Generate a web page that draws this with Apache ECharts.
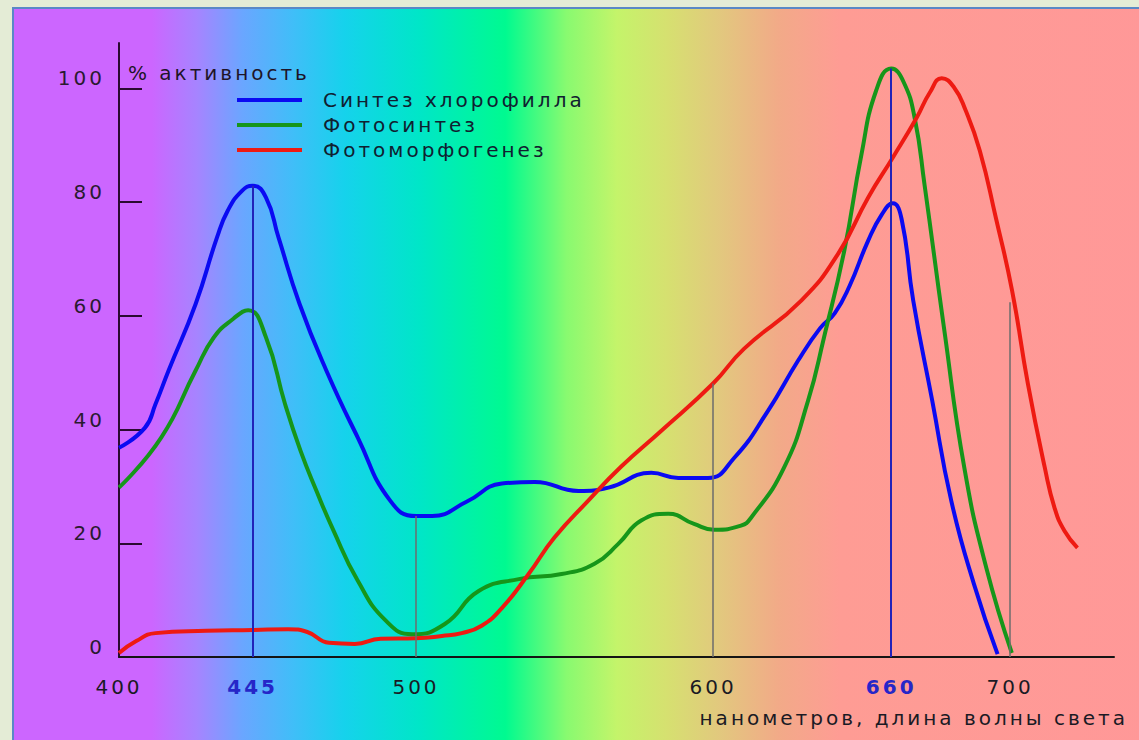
<!DOCTYPE html>
<html>
<head>
<meta charset="utf-8">
<script src="https://cdn.jsdelivr.net/npm/echarts@6/dist/echarts.min.js"></script>
<style>
  html, body { margin: 0; padding: 0; background: #e4ecd6; }
  #chart { width: 1139px; height: 740px; }
  #chart text { letter-spacing: 3px; }
</style>
</head>
<body>
<div id="chart"></div>
<script>
// ---- data (wavelength, nm / activity, %) ----
const seriesNames = ['Синтез хлорофилла', 'Фотосинтез', 'Фотоморфогенез'];

const chlorophyllNm  = [400, 408.7, 412.3, 416.7, 425.8, 433, 436.6, 441.4, 445, 449.5, 453.7, 460.8, 469.8, 480.4, 491.3, 500, 505.4, 517, 528.9, 540, 554.7, 564.8, 579.2, 588.3, 598.3, 607.1, 618.5, 628.6, 636, 641, 646, 652.2, 656.8, 660.5, 663.5, 667.4, 673.8, 680.2, 687.8, 695.8];
const chlorophyllPct = [36.8, 40.3, 44.5, 50.4, 62.1, 73.8, 78.5, 82, 82.9, 80.8, 73.8, 62.1, 50.4, 38.6, 27.5, 24.8, 24.8, 27.3, 30.5, 30.8, 29.2, 29.8, 32.4, 31.5, 31.5, 35, 43.3, 52.1, 57.8, 60.5, 65.3, 73.2, 77.8, 79.8, 77, 62.7, 45.1, 27.5, 12.9, 0.5];

const photosynthesisNm  = [400, 414.2, 425.8, 431.9, 438.5, 443.5, 449.5, 455.9, 461.1, 466.5, 472, 480.4, 490, 498.7, 509.7, 521.1, 534.6, 549, 560.1, 568.1, 575.8, 584.9, 593.6, 600.3, 609.4, 612.8, 623.9, 632, 637.4, 644.2, 649.9, 654.9, 660, 664.2, 668, 671.2, 674.4, 677.6, 684.6, 692, 700.6];
const photosynthesisPct = [29.8, 38.6, 50.4, 56.2, 59.5, 61, 56.2, 44.5, 36.3, 29.2, 22.5, 13.4, 6.3, 4.0, 5.8, 11.6, 13.7, 14.6, 16.4, 19.9, 24, 25.2, 23.4, 22.4, 23.1, 24.5, 33.3, 45.1, 56.3, 71.5, 88.2, 99.6, 103.5, 101.1, 94.5, 83.1, 70.8, 58.5, 33.3, 15.7, 0.7];

const morphogenesisNm  = [400, 405.8, 412.3, 429.4, 445, 456.9, 463.4, 470.7, 479.4, 488.1, 500, 508.7, 515.4, 522.1, 528.9, 537.9, 546.6, 558, 569.1, 582.6, 600, 610.4, 629.7, 642.2, 652.2, 660.6, 668.6, 673, 677, 681, 685, 689.8, 695.2, 700.7, 706, 711.7, 715, 718.3, 722.7];
const morphogenesisPct = [0.7, 2.8, 4.2, 4.6, 4.75, 4.9, 4.4, 2.5, 2.3, 3.2, 3.3, 3.7, 4.2, 5.5, 8.6, 14.6, 21, 27.5, 33.5, 39.8, 48.1, 54.2, 62.7, 71, 80.8, 87.9, 94.9, 99.3, 101.8, 100.3, 96.2, 89.1, 77.3, 64.4, 48.1, 33.3, 26.2, 22.2, 19.2];

// vertical guide lines: wavelength and the height they reach
const guideNm  = [445, 500, 600, 660, 700];
const guideTop = [82.9, 24.8, 48.1, 103.5, 62.4];
const guideHighlighted = [445, 660];

// axis labels
const xLabelValues = [400, 445, 500, 600, 660, 700];
const yLabelValues = [0, 20, 40, 60, 80, 100];
const yTickValues  = [20, 40, 60, 80, 100];
const yAxisTitle = '% активность';
const xAxisTitle = 'нанометров, длина волны света';

// ---- chart ----
const FONT = 'DejaVu Sans';
const FS = 20;
const colors = ['#0a0af2', '#16961a', '#ee1a12'];
const zip = (xs, ys) => xs.map((x, i) => [x, ys[i]]);

const chart = echarts.init(document.getElementById('chart'), null, { renderer: 'svg' });

const panelStops = [
  [0.0000, '#cc66ff'], [0.1216, '#cc66ff'], [0.1615, '#a684ff'], [0.2014, '#6aa6ff'],
  [0.2458, '#40bef8'], [0.2902, '#16d2ec'], [0.3558, '#00e6c8'], [0.4321, '#00fa90'],
  [0.4854, '#88fa70'], [0.5297, '#c4f46a'], [0.5741, '#d6e070'], [0.6202, '#e2c87e'],
  [0.6717, '#f2aa88'], [0.7250, '#fe9c94'], [1.0000, '#ff9898']
].map(([offset, color]) => ({ offset, color }));

const guideData = guideNm.map((nm, i) => {
  const hi = guideHighlighted.includes(nm);
  return [
    { coord: [nm, 0], lineStyle: { color: hi ? '#2222b8' : '#6c6c6c', width: hi ? 2 : 1.5, type: 'solid' } },
    { coord: [nm, guideTop[i]] }
  ];
});

const seriesData = [
  zip(chlorophyllNm, chlorophyllPct),
  zip(photosynthesisNm, photosynthesisPct),
  zip(morphogenesisNm, morphogenesisPct)
];

const lineSeries = seriesNames.map((name, i) => ({
  name,
  type: 'line',
  data: seriesData[i],
  smooth: 0.5,
  showSymbol: false,
  symbol: 'none',
  lineStyle: { color: colors[i], width: 4 },
  itemStyle: { color: colors[i] },
  z: 3
}));

chart.setOption({
  animation: false,
  backgroundColor: 'transparent',
  graphic: [{
    type: 'rect',
    z: -10,
    silent: true,
    shape: { x: 13, y: 8, width: 1140, height: 740 },
    style: {
      fill: new echarts.graphic.LinearGradient(0, 0, 1, 0, panelStops),
      stroke: '#5a88c6',
      lineWidth: 2
    }
  }],
  grid: { left: 119, right: 25, top: 43, bottom: 83, containLabel: false },
  legend: {
    data: seriesNames,
    orient: 'vertical',
    left: 237,
    top: 90,
    padding: 0,
    icon: 'rect',
    itemWidth: 65,
    itemHeight: 4,
    itemGap: 5,
    selectedMode: false,
    textStyle: { fontFamily: FONT, fontSize: FS, lineHeight: 19, color: '#102030', padding: [0, 0, 0, 16] }
  },
  xAxis: {
    type: 'value',
    min: 400,
    max: 735,
    name: xAxisTitle,
    nameLocation: 'end',
    nameGap: 14,
    nameTextStyle: { fontFamily: FONT, fontSize: FS, color: '#1a1a24', align: 'right', verticalAlign: 'top', padding: [51, 0, 0, 0] },
    axisLine: { show: true, onZero: false, lineStyle: { color: '#141414', width: 2 } },
    axisTick: { show: false },
    splitLine: { show: false },
    axisLabel: {
      customValues: xLabelValues,
      margin: 20,
      fontFamily: FONT,
      fontSize: FS,
      color: '#1a1a24',
      formatter: v => guideHighlighted.includes(v) ? '{b|' + v + '}' : '{n|' + v + '}',
      rich: {
        b: { fontFamily: FONT, fontSize: FS, fontWeight: 'bold', color: '#2626c8' },
        n: { fontFamily: FONT, fontSize: FS, color: '#1a1a24' }
      }
    }
  },
  yAxis: {
    type: 'value',
    min: 0,
    max: 108,
    name: yAxisTitle,
    nameLocation: 'end',
    nameGap: -30,
    nameTextStyle: { fontFamily: FONT, fontSize: FS, color: '#1e1428', align: 'left', verticalAlign: 'middle', padding: [0, 0, 0, 9] },
    axisLine: { show: true, lineStyle: { color: '#2a0a30', width: 2 } },
    axisTick: { show: true, inside: true, length: 23, customValues: yTickValues, lineStyle: { color: '#2a0a30', width: 2 } },
    splitLine: { show: false },
    axisLabel: {
      customValues: yLabelValues,
      margin: 14,
      fontFamily: FONT,
      fontSize: FS,
      color: '#2a1a30',
      verticalAlign: 'bottom'
    }
  },
  series: [{
    name: 'guides',
    type: 'line',
    data: [],
    silent: true,
    z: 2,
    markLine: { silent: true, symbol: ['none', 'none'], label: { show: false }, animation: false, data: guideData }
  }].concat(lineSeries)
});
</script>
</body>
</html>
